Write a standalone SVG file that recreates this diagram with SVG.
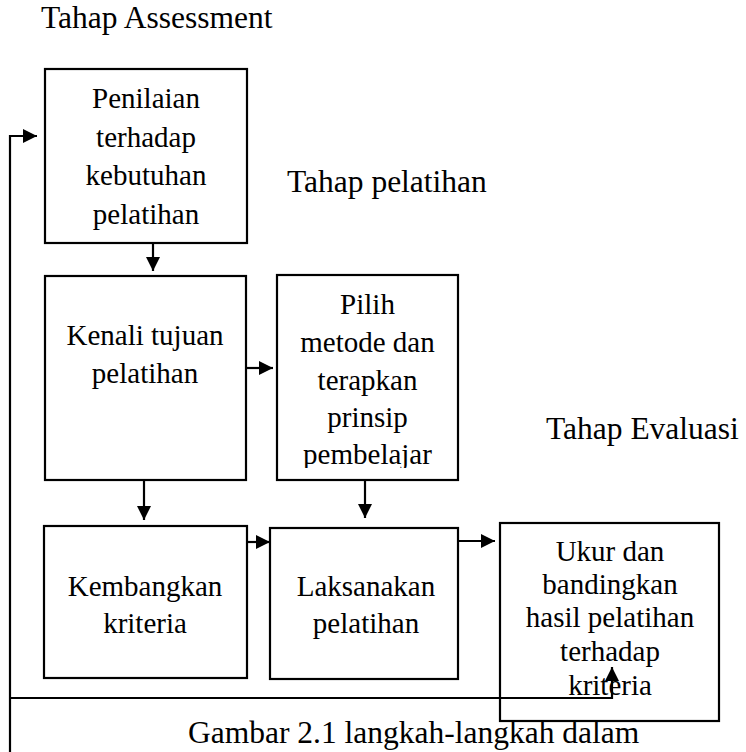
<svg xmlns="http://www.w3.org/2000/svg" width="746" height="752" viewBox="0 0 746 752">
<defs>
<style>
.box{fill:none;stroke:#000;stroke-width:2.2}
.t{font-size:29px;fill:#000;text-anchor:middle}
.h{font-size:31.5px;fill:#000}
.c{fill:none;stroke:#000;stroke-width:2.2}
</style>
<marker id="ah" viewBox="0 0 10 10" refX="10" refY="5" markerWidth="14" markerHeight="14" markerUnits="userSpaceOnUse" orient="auto">
<path d="M0,0 L10,5 L0,10 z" fill="#000"/>
</marker>
<clipPath id="clip3"><rect x="277" y="275" width="181" height="193"/></clipPath>
</defs>
<rect width="746" height="752" fill="#fff"/>

<g font-family="Liberation Serif, Times New Roman, DejaVu Serif, serif">
<g id="labels">
<text class="h" x="41" y="28">Tahap Assessment</text>
<text class="h" x="287" y="192">Tahap pelatihan</text>
<text class="h" x="546" y="439">Tahap Evaluasi</text>
<text class="h" x="188" y="743">Gambar 2.1 langkah-langkah dalam</text>
</g>

<g id="node-penilaian">
<rect class="box" x="45" y="69" width="202" height="174"/>
<text class="t" x="146" y="108">Penilaian</text>
<text class="t" x="146" y="147">terhadap</text>
<text class="t" x="146" y="185">kebutuhan</text>
<text class="t" x="146" y="224">pelatihan</text>
</g>

<g id="node-kenali">
<rect class="box" x="45" y="276" width="201" height="204"/>
<text class="t" x="145" y="345">Kenali tujuan</text>
<text class="t" x="145" y="383">pelatihan</text>
</g>

<g id="node-pilih">
<rect class="box" x="277" y="275" width="181" height="205"/>
<g clip-path="url(#clip3)">
<text class="t" x="367.5" y="314">Pilih</text>
<text class="t" x="367.5" y="352">metode dan</text>
<text class="t" x="367.5" y="390">terapkan</text>
<text class="t" x="367.5" y="427">prinsip</text>
<text class="t" x="367.5" y="464">pembelajar</text>
</g>
</g>

<g id="node-kembangkan">
<rect class="box" x="44" y="526" width="203" height="152"/>
<text class="t" x="145" y="596">Kembangkan</text>
<text class="t" x="145" y="633">kriteria</text>
</g>

<g id="node-laksanakan">
<rect class="box" x="270" y="528" width="188" height="151"/>
<text class="t" x="366" y="596">Laksanakan</text>
<text class="t" x="366" y="633">pelatihan</text>
</g>

<g id="node-ukur">
<rect class="box" x="500" y="523" width="219" height="198"/>
<text class="t" x="610" y="561">Ukur dan</text>
<text class="t" x="610" y="594">bandingkan</text>
<text class="t" x="610" y="627">hasil pelatihan</text>
<text class="t" x="610" y="661">terhadap</text>
<text class="t" x="610" y="695">kriteria</text>
</g>
</g>

<g id="connectors">
<line class="c" x1="153" y1="243" x2="153" y2="271" marker-end="url(#ah)"/>
<line class="c" x1="246" y1="368" x2="273" y2="368" marker-end="url(#ah)"/>
<line class="c" x1="144" y1="480" x2="144" y2="520" marker-end="url(#ah)"/>
<line class="c" x1="365" y1="480" x2="365" y2="518" marker-end="url(#ah)"/>
<line class="c" x1="247" y1="542" x2="270" y2="542" marker-end="url(#ah)"/>
<line class="c" x1="458" y1="541" x2="495" y2="541" marker-end="url(#ah)"/>
<polyline class="c" points="10,698 612,698 612,667" marker-end="url(#ah)"/>
<polyline class="c" points="10,752 10,136 37,136" marker-end="url(#ah)"/>
</g>
</svg>
